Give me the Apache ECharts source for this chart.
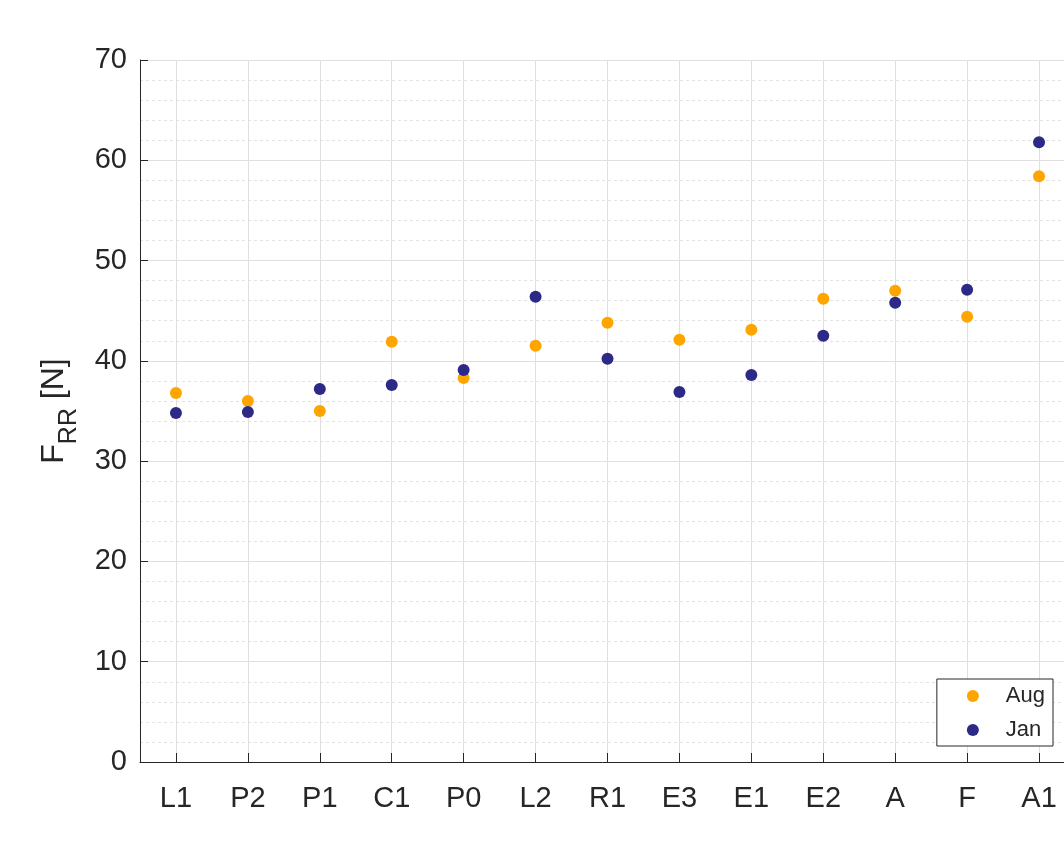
<!DOCTYPE html>
<html>
<head>
<meta charset="utf-8">
<title>F_RR by site</title>
<script src="https://cdn.jsdelivr.net/npm/echarts@6/dist/echarts.min.js"></script>
<style>
  html, body { margin: 0; padding: 0; background: #ffffff; overflow: hidden; }
  #chart { width: 1064px; height: 855px; }
</style>
</head>
<body>
<div id="chart"></div>
<script>
// Measurement sites along the x axis
const sites = ['L1', 'P2', 'P1', 'C1', 'P0', 'L2', 'R1', 'E3', 'E1', 'E2', 'A', 'F', 'A1'];

// Rolling-resistance force F_RR [N] per site, August and January campaigns
const augValues = [36.8, 36.0, 35.0, 41.9, 38.3, 41.5, 43.8, 42.1, 43.1, 46.2, 47.0, 44.4, 58.4];
const janValues = [34.8, 34.9, 37.2, 37.6, 39.1, 46.4, 40.2, 36.9, 38.6, 42.5, 45.8, 47.1, 61.8];

// Y axis range and step
const yMin = 0;
const yMax = 70;
const yStep = 10;

const FONT = "'Liberation Sans', Arial, Helvetica, sans-serif";
const TEXT = '#262626';

const chart = echarts.init(document.getElementById('chart'), null, { renderer: 'canvas' });

chart.setOption({
  backgroundColor: '#ffffff',
  animation: false,
  textStyle: { fontFamily: FONT },
  // the plot box runs on past the right edge of the canvas
  grid: { left: 140, top: 60, bottom: 93, width: 935, containLabel: false, outerBoundsMode: 'none' },
  legend: {
    orient: 'vertical',
    right: 11,
    bottom: 109,
    data: ['Aug', 'Jan'],
    icon: 'circle',
    itemWidth: 12,
    itemHeight: 12,
    itemGap: 12,
    padding: [6, 8, 5, 30],
    borderColor: '#262626',
    borderWidth: 1,
    backgroundColor: '#ffffff',
    textStyle: {
      fontFamily: FONT,
      fontSize: 22,
      lineHeight: 20,
      color: TEXT,
      padding: [0, 0, 0, 22]
    }
  },
  xAxis: {
    type: 'category',
    data: sites,
    boundaryGap: true,
    axisLine: { show: true, lineStyle: { color: TEXT, width: 1 } },
    axisTick: { show: true, inside: true, alignWithLabel: true, length: 9, lineStyle: { color: TEXT } },
    axisLabel: { fontFamily: FONT, fontSize: 29, color: TEXT, margin: 22 },
    splitLine: { show: true, alignWithLabel: true, lineStyle: { color: '#dfdfdf', width: 1 } }
  },
  yAxis: {
    type: 'value',
    min: yMin,
    max: yMax,
    interval: yStep,
    name: '{f|F}{s|RR}{f| [N]}',
    nameLocation: 'middle',
    nameGap: 58,
    nameTextStyle: {
      color: TEXT,
      rich: {
        f: { fontFamily: FONT, fontSize: 32, color: TEXT, lineHeight: 44, verticalAlign: 'top' },
        s: { fontFamily: FONT, fontSize: 25, color: TEXT, lineHeight: 22, verticalAlign: 'bottom' }
      }
    },
    axisLine: { show: true, lineStyle: { color: TEXT, width: 1 } },
    axisTick: { show: true, inside: true, length: 8, lineStyle: { color: TEXT } },
    axisLabel: { fontFamily: FONT, fontSize: 29, color: TEXT, margin: 13 },
    splitLine: { show: true, lineStyle: { color: '#dfdfdf', width: 1 } },
    minorTick: { show: false, splitNumber: 5 },
    minorSplitLine: { show: true, lineStyle: { color: '#e3e3e3', width: 1, type: [3, 3] } }
  },
  series: [
    {
      name: 'Aug',
      type: 'scatter',
      data: augValues,
      symbol: 'circle',
      symbolSize: 12,
      itemStyle: { color: '#FFA500', opacity: 1 }
    },
    {
      name: 'Jan',
      type: 'scatter',
      data: janValues,
      symbol: 'circle',
      symbolSize: 12,
      itemStyle: { color: '#2C2A86', opacity: 1 }
    }
  ]
});
</script>
</body>
</html>
